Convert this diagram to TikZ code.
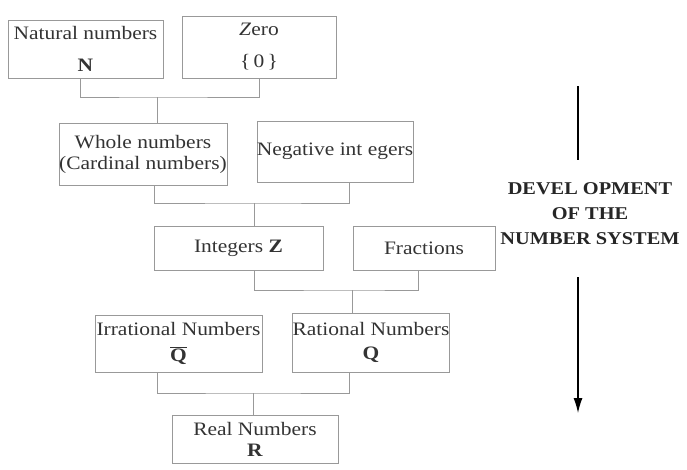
\documentclass[tikz,border=0pt]{standalone}
\usepackage{fontspec}
\setmainfont{Liberation Serif}[FakeStretch=1.13]
\usetikzlibrary{arrows.meta}
\tikzset{
  numbox/.style={draw=black!40, line width=0.8pt, align=center, inner sep=0pt,
    text=black!80, font=\fontsize{19}{21}\selectfont},
  link/.style={draw=black!40, line width=0.8pt},
}
\begin{document}
\begin{tikzpicture}[x=1pt,y=-1pt]
\useasboundingbox (0,0) rectangle (687,469);
\node[numbox,minimum width=155,minimum height=58] (nat) at (85.5,49) {Natural numbers\\[11pt]\textbf{N}};
\node[numbox,minimum width=154,minimum height=62] (zero) at (259,47) {\textit{Z}ero\\[11pt]\{\,0\,\}};
\node[numbox,minimum width=168,minimum height=62] (whole) at (143,154) {Whole numbers\\(Cardinal numbers)};
\node[numbox,minimum width=152,minimum height=61] (neg) at (335,151.5) {Negative int egers};
\node[numbox,minimum width=169,minimum height=44] (int) at (238.5,248) {Integers \textbf{Z}};
\node[numbox,minimum width=142,minimum height=44] (frac) at (424,248) {Fractions};
\node[numbox,minimum width=167,minimum height=57] (irr) at (178.5,343.5) {Irrational Numbers\\[5pt]$\overline{\mbox{\textbf{Q}}}$};
\node[numbox,minimum width=152,minimum height=59] (rat) at (371,342.5) {Rational Numbers\\[3pt]\textbf{Q}};
\node[numbox,minimum width=166,minimum height=48] (real) at (255,439) {Real Numbers\\\textbf{R}};
% junctions
\coordinate (j1) at (157,97);
\coordinate (j2) at (254,203);
\coordinate (j3) at (352,290);
\coordinate (j4) at (253,393);
\draw[link] ([xshift=-5pt]nat.south) |- (j1) -| (zero.south);
\draw[link] (j1) -- (j1 |- whole.north);
\draw[link] ([xshift=11pt]whole.south) |- (j2) -| ([xshift=14pt]neg.south);
\draw[link] (j2) -- (j2 |- int.north);
\draw[link] ([xshift=16pt]int.south) |- (j3) -| ([xshift=-6pt]frac.south);
\draw[link] (j3) -- (j3 |- rat.north);
\draw[link] ([xshift=-21pt]irr.south) |- (j4) -| ([xshift=-22pt]rat.south);
\draw[link] (j4) -- (j4 |- real.north);
% development arrow
\node[font=\fontsize{18}{21}\selectfont\bfseries, align=center, text=black!85] (dev) at (590,214) {DEVEL OPMENT\\[4pt]OF THE\\[4pt]NUMBER SYSTEM};
\coordinate (atop) at (578,86);
\coordinate (abot) at (578,413);
\draw[line width=1.2pt] (atop) -- (atop |- 0,160);
\draw[line width=1.2pt,-{Latex[length=15pt,width=9pt]}] (abot |- 0,277) -- (abot);
\end{tikzpicture}
\end{document}
